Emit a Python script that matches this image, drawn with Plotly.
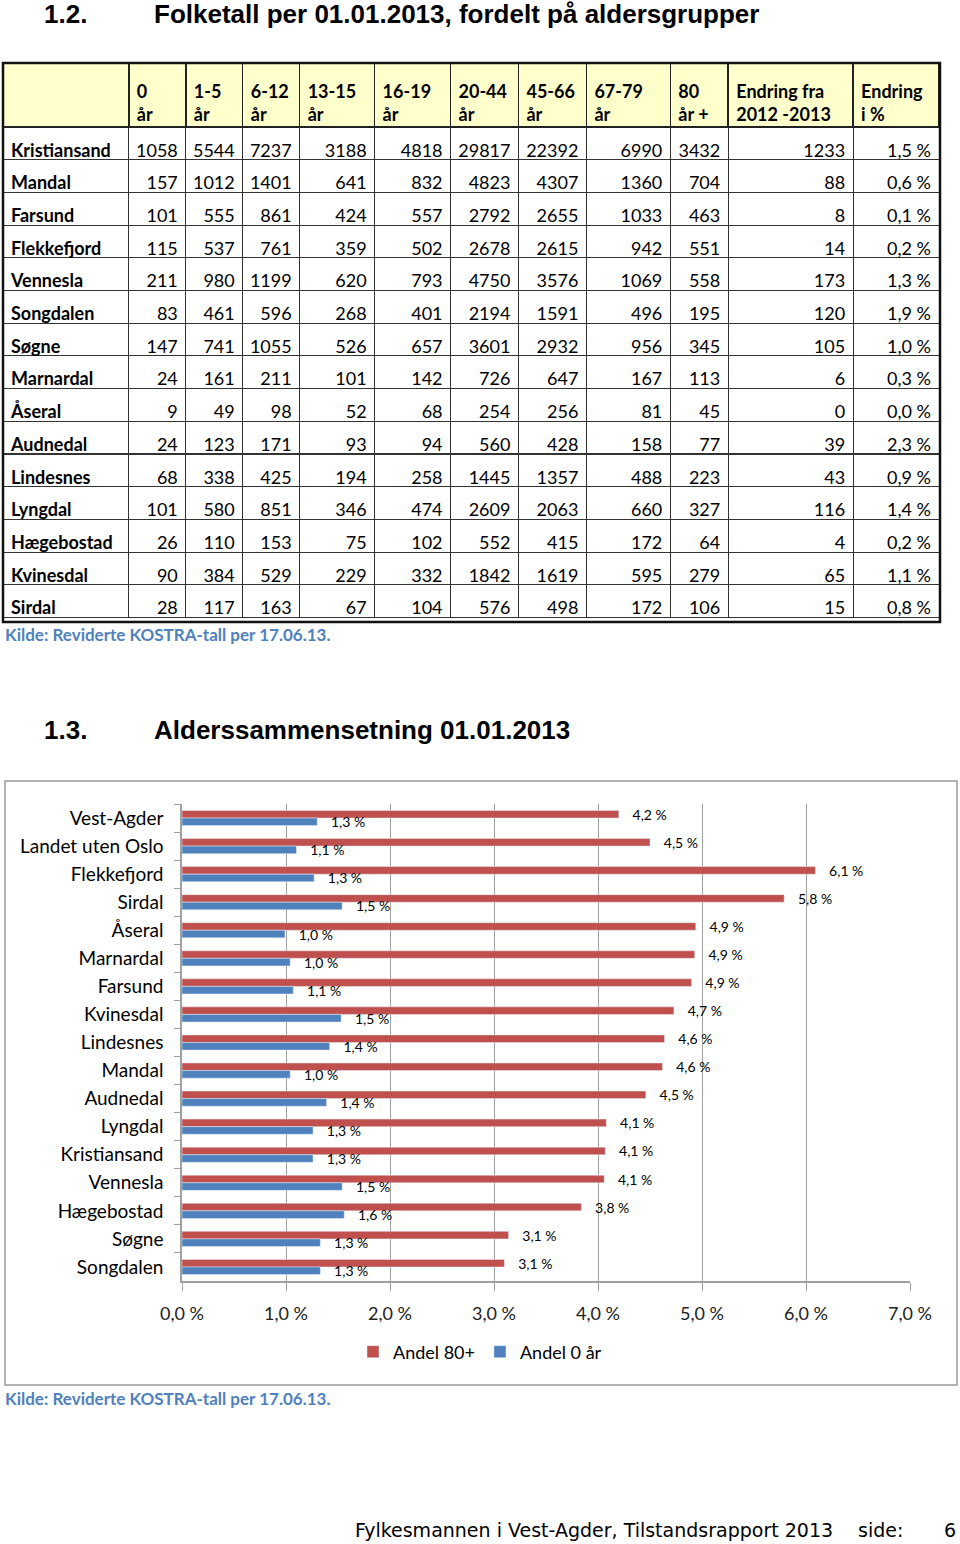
import plotly.graph_objects as go

# ---------------- Table data (1.2) ----------------
table_header = ["", "0<br>år", "1-5<br>år", "6-12<br>år", "13-15<br>år", "16-19<br>år",
                "20-44<br>år", "45-66<br>år", "67-79<br>år", "80<br>år +",
                "Endring fra<br>2012 -2013", "Endring<br>i %"]
kommuner = ["Kristiansand", "Mandal", "Farsund", "Flekkefjord", "Vennesla", "Songdalen",
            "Søgne", "Marnardal", "Åseral", "Audnedal", "Lindesnes", "Lyngdal",
            "Hægebostad", "Kvinesdal", "Sirdal"]
age_0 = [1058, 157, 101, 115, 211, 83, 147, 24, 9, 24, 68, 101, 26, 90, 28]
age_1_5 = [5544, 1012, 555, 537, 980, 461, 741, 161, 49, 123, 338, 580, 110, 384, 117]
age_6_12 = [7237, 1401, 861, 761, 1199, 596, 1055, 211, 98, 171, 425, 851, 153, 529, 163]
age_13_15 = [3188, 641, 424, 359, 620, 268, 526, 101, 52, 93, 194, 346, 75, 229, 67]
age_16_19 = [4818, 832, 557, 502, 793, 401, 657, 142, 68, 94, 258, 474, 102, 332, 104]
age_20_44 = [29817, 4823, 2792, 2678, 4750, 2194, 3601, 726, 254, 560, 1445, 2609, 552, 1842, 576]
age_45_66 = [22392, 4307, 2655, 2615, 3576, 1591, 2932, 647, 256, 428, 1357, 2063, 415, 1619, 498]
age_67_79 = [6990, 1360, 1033, 942, 1069, 496, 956, 167, 81, 158, 488, 660, 172, 595, 172]
age_80 = [3432, 704, 463, 551, 558, 195, 345, 113, 45, 77, 223, 327, 64, 279, 106]
endring = [1233, 88, 8, 14, 173, 120, 105, 6, 0, 39, 43, 116, 4, 65, 15]
endring_pct = [1.5, 0.6, 0.1, 0.2, 1.3, 1.9, 1.0, 0.3, 0.0, 2.3, 0.9, 1.4, 0.2, 1.1, 0.8]

# ---------------- Chart data (1.3) ----------------
chart_categories = ["Vest-Agder", "Landet uten Oslo", "Flekkefjord", "Sirdal", "Åseral",
                    "Marnardal", "Farsund", "Kvinesdal", "Lindesnes", "Mandal", "Audnedal",
                    "Lyngdal", "Kristiansand", "Vennesla", "Hægebostad", "Søgne", "Songdalen"]
andel_80 = [4.20, 4.50, 6.09, 5.79, 4.94, 4.93, 4.90, 4.73, 4.64, 4.62, 4.46,
            4.08, 4.07, 4.06, 3.84, 3.14, 3.10]
andel_0 = [1.30, 1.10, 1.27, 1.54, 0.99, 1.04, 1.07, 1.53, 1.42, 1.04, 1.39,
           1.26, 1.26, 1.54, 1.56, 1.33, 1.33]

W, H = 960, 1544
def px(x):
    return x / W
def py(y):
    return 1 - y / H

BODY = "Lato"
ARIAL = "Liberation Sans, Arial"
RED = "#C0504D"
BLUE = "#4F81BD"
KILDE = "#4F81BD"
NBSP = "\u00a0"
CLEAR = "rgba(0,0,0,0)"

fig = go.Figure()

# ---- Table ----
num_cols = [age_0, age_1_5, age_6_12, age_13_15, age_16_19, age_20_44, age_45_66,
            age_67_79, age_80, endring]
cell_values = [list(kommuner)]
cell_values += [[str(v) for v in col] for col in num_cols]
cell_values.append([("%.1f" % v).replace(".", ",") + NBSP + "%" for v in endring_pct])

col_widths = [126, 57, 57, 57, 75, 76, 68, 68, 84, 58, 125, 86]
ncol = len(col_widths)
nrow = len(kommuner)
ROW_H = 32.7

# grid table: fills and lines only
fig.add_trace(go.Table(
    domain=dict(x=[px(3), px(940)], y=[py(622), py(63)]),
    columnwidth=col_widths,
    header=dict(
        values=[""] * ncol,
        fill_color="#FFFFCC",
        line=dict(color="#222222", width=1.5),
        height=64,
    ),
    cells=dict(
        values=[[""] * nrow for _ in range(ncol)],
        fill_color="white",
        line=dict(color="#333333", width=1),
        height=ROW_H,
    ),
))
# text table laid over the grid (text shifted down so it sits like the reference)
fig.add_trace(go.Table(
    domain=dict(x=[px(3), px(940)], y=[py(640), py(72)]),
    columnwidth=col_widths,
    header=dict(
        values=table_header,
        align="left",
        fill_color=CLEAR,
        line=dict(color=CLEAR, width=0),
        font=dict(family=BODY, size=18, color="black", weight="bold"),
        height=63,
    ),
    cells=dict(
        values=cell_values,
        align=["left"] + ["right"] * (ncol - 1),
        fill_color=CLEAR,
        line=dict(color=CLEAR, width=0),
        font=dict(family=BODY, size=18, color="black",
                  weight=["bold"] + ["normal"] * (ncol - 1)),
        height=ROW_H,
    ),
))

# ---- Bar chart ----
fig.add_trace(go.Bar(
    name="Andel 80+", y=chart_categories, x=andel_80, orientation="h",
    marker=dict(color=RED), texttemplate=NBSP * 3 + "%{x:.1f} %",
    textposition="outside", constraintext="none", cliponaxis=False,
    textfont=dict(family=BODY, size=14, color="black"),
    hoverinfo="skip",
))
fig.add_trace(go.Bar(
    name="Andel 0 år", y=chart_categories, x=andel_0, orientation="h",
    marker=dict(color=BLUE), texttemplate=NBSP * 3 + "%{x:.1f} %",
    textposition="outside", constraintext="none", cliponaxis=False,
    textfont=dict(family=BODY, size=14, color="black"),
    hoverinfo="skip",
))

fig.update_layout(
    width=W, height=H,
    margin=dict(l=0, r=0, t=0, b=0, autoexpand=False),
    paper_bgcolor="white", plot_bgcolor="white",
    separators=", ",
    barmode="group", bargap=0.46, bargroupgap=0,
    font=dict(family=BODY, color="black"),
    xaxis=dict(
        domain=[px(182), px(910)], range=[0, 7], dtick=1,
        tickformat=".1f", ticksuffix=" %",
        showgrid=True, gridcolor="#A0A0A0", gridwidth=1,
        showline=True, linecolor="#A0A0A0", linewidth=1.5,
        ticks="outside", ticklen=8, tickcolor="#A0A0A0",
        tickfont=dict(family=BODY, size=18, color="#222222"),
        ticklabelstandoff=8, zeroline=False, fixedrange=True,
        anchor="y", automargin=False,
    ),
    yaxis=dict(
        domain=[py(1281), py(804)],
        categoryorder="array", categoryarray=chart_categories,
        autorange="reversed",
        showline=True, linecolor="#A0A0A0", linewidth=1.5,
        ticks="outside", ticklen=6, tickcolor="#A0A0A0", tickson="boundaries",
        tickfont=dict(family=BODY, size=19, color="black"),
        ticklabelstandoff=13, showgrid=False, fixedrange=True,
        anchor="x", automargin=False,
    ),
    legend=dict(
        orientation="h", x=0.5, xanchor="center", y=py(1352), yanchor="middle",
        font=dict(family=BODY, size=18, color="black"),
        traceorder="normal", itemclick=False, itemdoubleclick=False,
    ),
    showlegend=True,
)

# Borders
fig.add_shape(type="rect", xref="paper", yref="paper",
              x0=px(3), x1=px(940), y0=py(622), y1=py(63),
              line=dict(color="#111111", width=2.5))
fig.add_shape(type="rect", xref="paper", yref="paper",
              x0=px(5), x1=px(957), y0=py(1385), y1=py(781),
              line=dict(color="#9A9A9A", width=1.5))

# Text annotations
def note(text, x, y, size, family, color="black", xanchor="left", bold=False):
    fig.add_annotation(text=("<b>%s</b>" % text) if bold else text,
                       xref="paper", yref="paper", x=px(x), y=py(y),
                       xanchor=xanchor, yanchor="middle", showarrow=False,
                       font=dict(family=family, size=size, color=color))

note("1.2.", 42, 14, 26, ARIAL, bold=True)
note("Folketall per 01.01.2013, fordelt på aldersgrupper", 152, 14, 26, ARIAL, bold=True)
note("Kilde: Reviderte KOSTRA-tall per 17.06.13.", 3, 634, 17, BODY, KILDE, bold=True)
note("1.3.", 42, 730, 26, ARIAL, bold=True)
note("Alderssammensetning 01.01.2013", 152, 730, 26, ARIAL, bold=True)
note("Kilde: Reviderte KOSTRA-tall per 17.06.13.", 3, 1398, 17, BODY, KILDE, bold=True)
note("Fylkesmannen i Vest-Agder, Tilstandsrapport 2013", 353, 1530, 19, "DejaVu Sans")
note("side:", 856, 1530, 19, "DejaVu Sans")
note("6", 958, 1530, 19, "DejaVu Sans", xanchor="right")

fig.write_html("out.html", config={"displayModeBar": False},
               post_script="document.body.style.margin='0';")
